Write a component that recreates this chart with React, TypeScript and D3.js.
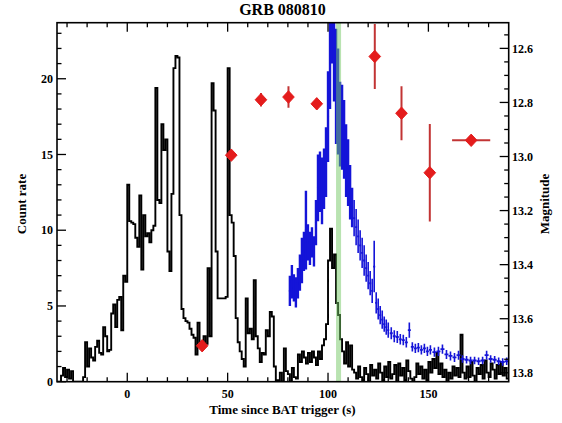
import React from "react";
import * as d3 from "d3";

// BAT count rate, 1 s bins starting at t = -35 s
const binStart = -35;
const batRate = [
  0, 0, 0.4, 0.9, 0.3, 0.8, 0.2, 0.7, 0, 0,
  0, 0, 0, 0.3, 2.6, 1.0, 2.2, 1.6, 1.4, 2.3,
  2.7, 1.9, 1.8, 3.6, 3.0, 2.0, 2.1, 4.5, 5.1, 3.6,
  5.4, 5.6, 3.4, 7.0, 6.6, 13.0, 10.6, 10.5, 10.4, 9.5,
  8.9, 12.3, 7.4, 11.0, 9.6, 9.8, 9.2, 10.0, 10.3, 19.4,
  12.0, 11.8, 17.0, 15.3, 16.0, 8.6, 7.3, 12.4, 20.7, 21.5,
  21.4, 11.0, 4.8, 4.2, 4.0, 3.9, 3.5, 3.1, 2.9, 1.8,
  3.9, 2.6, 2.2, 3.0, 2.5, 7.5, 3.0, 19.7, 17.9, 8.6,
  5.5, 5.5, 5.5, 5.5, 5.6, 20.7, 11.0, 10.5, 8.3, 4.2,
  2.6, 2.0, 1.5, 1.0, 5.5, 3.2, 3.5, 2.8, 6.7, 3.0,
  2.2, 1.3, 1.9, 1.8, 3.4, 3.0, 4.6, 4.3, 1.0, 0.1,
  0.1, 0.6, 0.0, 2.2, 0.7, 0.5, 0.0, 0.9, 0.3, 0.2,
  1.8, 1.3, 2.0, 1.6, 1.2, 1.9, 1.3, 2.0, 1.6, 1.1,
  2.0, 1.5, 2.4, 2.8, 3.8, 8.0, 10.1, 7.5, 8.4, 5.2,
  4.4, 2.8, 2.0, 1.2, 2.6, 1.0, 2.4, 0.8, 0.6, 0.2,
  1.0, 0.3, 0.1, 0.9, 0.5, 0.0, 1.1, 0.4, 0.8, 0.2,
  1.2, 0.6, 0.1, 1.0, 0.3, 1.3, 0.2, 0.5, 1.1, 0.0,
  1.2, 0.4, 0.9, 0.1, 1.4, 0.7, 0.2, 0.0, 0.3, 1.2,
  0.5, 1.0, 0.2, 0.8, 0.1, 1.3, 0.6, 1.5, 0.9, 1.9,
  0.5, 1.2, 0.3, 0.8, 0.0, 0.6, 0.2, 1.0, 0.4, 0.9,
  0.3, 3.1, 0.6, 0.2, 1.0, 0.3, 1.3, 0.4, 0.0, 0.9,
  0.5, 1.1, 0.2, 1.4, 0.6, 0.3, 1.2, 0.8, 0.2, 1.1,
  0.5, 1.3, 0.4, 0.9, 0.2,
];

// Second light curve (blue), plotted against the count-rate axis
const blueTime = [
  81, 82, 83, 84, 85, 86, 87, 88, 89, 90,
  91, 92, 93, 94, 95, 96, 97, 98, 99, 100,
  101, 102, 103, 104, 105, 106, 107, 108, 109, 110,
  111, 112, 113, 114, 115, 116, 117, 118, 119, 120,
  121, 122, 123, 124, 125, 126, 127, 128, 129, 130,
  131.5, 133, 134.5, 136, 137.5, 139, 140.5, 142, 143.5, 145,
  146.5, 148, 149.5, 151, 153, 155, 157, 159, 161, 163,
  165, 167, 169, 171, 173, 175, 177, 179, 181, 183,
  185, 187, 189,
];
const blueRate = [
  6.0, 6.6, 6.2, 5.9, 6.5, 7.2, 8.0, 8.6, 10.0, 9.2,
  8.8, 9.2, 8.6, 10.5, 12.8, 13.2, 12.6, 13.4, 14.5, 17.5,
  21.0, 24.5, 22.0, 19.5, 18.5, 17.0, 16.8, 16.0, 14.6, 13.8,
  12.5, 11.5, 10.8, 10.2, 9.6, 9.0, 8.5, 8.0, 7.5, 7.0,
  6.5, 6.0, 7.6, 5.2, 4.8, 4.4, 4.1, 3.8, 3.6, 3.4,
  3.2, 3.0, 2.95, 2.8, 2.75, 2.6, 3.4, 2.3, 2.2, 2.25,
  2.1, 2.2, 2.0, 2.1, 1.95, 2.0, 2.15, 1.8, 1.7, 1.6,
  1.75, 1.5, 1.45, 1.4, 1.4, 1.35, 1.4, 1.75, 1.5, 1.45,
  1.35, 1.3, 1.35,
];
const blueErr = [
  1.0, 1.1, 0.9, 1.0, 1.0, 1.2, 1.5, 1.3, 2.6, 1.2,
  1.1, 1.0, 1.0, 1.5, 2.2, 2.0, 2.2, 2.0, 2.3, 3.0,
  3.0, 3.5, 3.5, 3.8, 3.5, 2.8, 2.8, 2.6, 2.4, 2.2,
  1.8, 1.3, 1.2, 1.2, 1.1, 1.0, 1.0, 1.0, 0.9, 0.9,
  0.8, 0.8, 1.7, 0.7, 0.7, 0.6, 0.6, 0.5, 0.5, 0.5,
  0.4, 0.4, 0.4, 0.35, 0.35, 0.35, 0.5, 0.3, 0.3, 0.3,
  0.3, 0.3, 0.3, 0.3, 0.3, 0.3, 0.3, 0.3, 0.3, 0.3,
  0.3, 0.25, 0.25, 0.25, 0.25, 0.25, 0.25, 0.3, 0.25, 0.25,
  0.25, 0.25, 0.25,
];

// Optical photometry (magnitudes, right axis)
const redTime = [37.3, 51.8, 66.6, 80.3, 94.4, 123.3, 136.6, 150.7, 171.3];
const redTimeErr = [0, 0, 0, 0, 0, 0, 0, 0, 9.5];
const redMag = [13.7, 12.995, 12.79, 12.78, 12.805, 12.63, 12.84, 13.06, 12.94];
const redMagErr = [0.01, 0.015, 0.025, 0.04, 0.02, 0.12, 0.1, 0.18, 0.015];

// Highlighted interval (s)
const greenBand = [104.0, 106.5];

const xMajor = [0, 50, 100, 150];
const yMajor = [0, 5, 10, 15, 20];
const magMajor = [12.6, 12.8, 13.0, 13.2, 13.4, 13.6, 13.8];

const W = 562;
const H = 423;
const left = 57;
const right = 508.7;
const top = 22.7;
const bottom = 381.7;

const serif = "'Liberation Serif', 'DejaVu Serif', serif";

export default function App() {
  const x = d3.scaleLinear().domain([-35, 190]).range([left, right]);
  const y = d3.scaleLinear().domain([0, 23.7]).range([bottom, top]);
  const mag = d3.scaleLinear().domain([12.505, 13.833]).range([top, bottom]);

  // step outline of the binned count rate
  const stepPts: [number, number][] = [];
  batRate.forEach((v, i) => {
    const t0 = binStart + i;
    stepPts.push([t0, v], [t0 + 1, v]);
  });
  const stepPath = d3
    .line<[number, number]>()
    .x((d) => x(d[0]))
    .y((d) => y(d[1]))(stepPts) as string;

  const xMinor = d3.range(-30, 190, 10).filter((v) => !xMajor.includes(v));
  const yMinor = d3.range(0, 24, 1).filter((v) => v % 5 !== 0);
  const magMinor = d3
    .range(12.55, 13.84, 0.05)
    .map((v) => Math.round(v * 100) / 100)
    .filter((v) => Math.round(v * 100) % 20 !== 0 && mag(v) >= top && mag(v) <= bottom);

  const halfWidth = (i: number) => {
    const prev = i > 0 ? blueTime[i] - blueTime[i - 1] : Infinity;
    const next = i < blueTime.length - 1 ? blueTime[i + 1] - blueTime[i] : Infinity;
    return Math.min(prev, next) / 2;
  };

  const major = 9;
  const minor = 4.5;
  const fmt = d3.format(".1f");

  return (
    <svg
      width={W}
      height={H}
      style={{ position: "absolute", left: 0, top: 0, background: "#fff" }}
      fontFamily={serif}
    >
      <defs>
        <clipPath id="plot-area">
          <rect x={left} y={top} width={right - left} height={bottom - top} />
        </clipPath>
      </defs>

      <g clipPath="url(#plot-area)">
        <path d={stepPath} fill="none" stroke="#000" strokeWidth={1.9} strokeLinejoin="miter" />

        <g stroke="#1414d8">
          {blueTime.map((t, i) => {
            const h = halfWidth(i);
            const w = blueTime[i] <= 112 ? 2.4 : 1.6;
            return (
              <g key={i}>
                <line
                  x1={x(t)}
                  x2={x(t)}
                  y1={y(blueRate[i] - blueErr[i])}
                  y2={y(blueRate[i] + blueErr[i])}
                  strokeWidth={w}
                />
                <line
                  x1={x(t - h)}
                  x2={x(t + h)}
                  y1={y(blueRate[i])}
                  y2={y(blueRate[i])}
                  strokeWidth={1.8}
                />
              </g>
            );
          })}
        </g>

        <rect
          x={x(greenBand[0])}
          y={top}
          width={x(greenBand[1]) - x(greenBand[0])}
          height={bottom - top}
          fill="#74c864"
          opacity={0.5}
        />

        <g stroke="#c23434" strokeWidth={2}>
          {redTime.map((t, i) => (
            <g key={i}>
              <line x1={x(t)} x2={x(t)} y1={mag(redMag[i] - redMagErr[i])} y2={mag(redMag[i] + redMagErr[i])} />
              {redTimeErr[i] > 0 && (
                <line x1={x(t - redTimeErr[i])} x2={x(t + redTimeErr[i])} y1={mag(redMag[i])} y2={mag(redMag[i])} />
              )}
            </g>
          ))}
        </g>
        {redTime.map((t, i) => (
          <path
            key={i}
            transform={`translate(${x(t)},${mag(redMag[i])})`}
            d="M0,-6.2L5.8,0L0,6.2L-5.8,0Z"
            fill="#e41c1c"
            stroke="#e41c1c"
            strokeWidth={1}
            strokeLinejoin="round"
          />
        ))}
      </g>

      {/* frame */}
      <rect x={left} y={top} width={right - left} height={bottom - top} fill="none" stroke="#000" strokeWidth={1.6} />

      {/* ticks on all four sides, pointing inwards */}
      <g stroke="#000" strokeWidth={1.3}>
        {xMajor.map((v) => (
          <g key={`xM${v}`}>
            <line x1={x(v)} x2={x(v)} y1={bottom} y2={bottom - major} />
            <line x1={x(v)} x2={x(v)} y1={top} y2={top + major} />
          </g>
        ))}
        {xMinor.map((v) => (
          <g key={`xm${v}`}>
            <line x1={x(v)} x2={x(v)} y1={bottom} y2={bottom - minor} />
            <line x1={x(v)} x2={x(v)} y1={top} y2={top + minor} />
          </g>
        ))}
        {yMajor.map((v) => (
          <line key={`yM${v}`} x1={left} x2={left + major} y1={y(v)} y2={y(v)} />
        ))}
        {yMinor.map((v) => (
          <line key={`ym${v}`} x1={left} x2={left + minor} y1={y(v)} y2={y(v)} />
        ))}
        {magMajor.map((v) => (
          <line key={`mM${v}`} x1={right} x2={right - major} y1={mag(v)} y2={mag(v)} />
        ))}
        {magMinor.map((v) => (
          <line key={`mm${v}`} x1={right} x2={right - minor} y1={mag(v)} y2={mag(v)} />
        ))}
      </g>

      <g fontSize={12} fontWeight="bold" fill="#000">
        {xMajor.map((v) => (
          <text key={`xl${v}`} x={x(v)} y={398} textAnchor="middle">
            {v}
          </text>
        ))}
        {yMajor.map((v) => (
          <text key={`yl${v}`} x={53} y={y(v)} dy="0.35em" textAnchor="end">
            {v}
          </text>
        ))}
        {magMajor.map((v) => (
          <text key={`ml${v}`} x={512} y={mag(v)} dy="0.35em" textAnchor="start">
            {fmt(v)}
          </text>
        ))}
      </g>

      <text x={282.5} y={15} textAnchor="middle" fontSize={16} fontWeight="bold">
        GRB 080810
      </text>
      <text x={282.5} y={414} textAnchor="middle" fontSize={13} fontWeight="bold">
        Time since BAT trigger (s)
      </text>
      <text
        transform="translate(26,204) rotate(-90)"
        textAnchor="middle"
        fontSize={13}
        fontWeight="bold"
      >
        Count rate
      </text>
      <text
        transform="translate(549,204) rotate(-90)"
        textAnchor="middle"
        fontSize={13}
        fontWeight="bold"
      >
        Magnitude
      </text>
    </svg>
  );
}
